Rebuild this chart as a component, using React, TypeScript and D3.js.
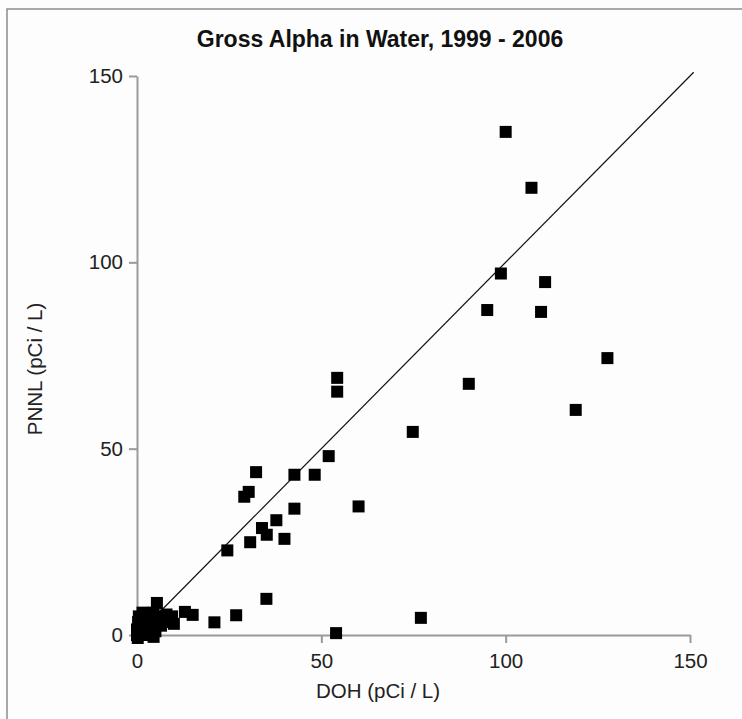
import React, { useEffect, useRef } from 'react';
import * as d3 from 'd3';

// DOH vs PNNL measurements (pCi / L)
const dohValues = [
  100, 107, 98.7, 110.7, 95, 109.6, 127.6, 90, 119, 74.8,
  54.3, 54.3, 52, 32.3, 42.7, 48.2, 30.3, 29.1, 60.1, 42.7,
  37.8, 33.9, 35.2, 40, 30.7, 24.5, 35.1, 26.9, 21, 77, 54,
  13, 15.1, 5.4,
  0, 0, 0.3, 0.5, 1, 1.2, 1.5, 2, 2, 2.5, 3, 3, 3.5, 4, 4, 4.5,
  5, 5, 6, 6.5, 7, 8, 9, 9.5, 10, 0.2, 4.5
];
const pnnlValues = [
  135, 120, 97, 94.7, 87.2, 86.7, 74.3, 67.4, 60.4, 54.5,
  69, 65.3, 48, 43.7, 43, 43, 38.4, 37.1, 34.5, 33.9,
  30.8, 28.7, 26.9, 25.8, 24.9, 22.7, 9.7, 5.3, 3.4, 4.6, 0.5,
  6.2, 5.4, 8.6,
  0, 1.5, 3.5, 5, 0.5, 2.5, 6, 0, 4, 1.5, 3, 5.5, 0.5, 2, 4.5, 6,
  1, 3.5, 5, 2.5, 4, 5.5, 3.5, 5, 3, -0.8, -0.5
];
const tickValues = [0, 50, 100, 150];
const oneToOne = [0, 151];

const title = 'Gross Alpha in Water, 1999 - 2006';
const xTitle = 'DOH (pCi / L)';
const yTitle = 'PNNL (pCi / L)';

function App() {
  const svgRef = useRef<SVGSVGElement>(null);

  useEffect(() => {
    const svg = d3.select(svgRef.current);
    svg.selectAll('*').remove();

    const width = 742;
    const height = 719;
    const font = 'Liberation Sans, Arial, sans-serif';
    const axisColor = '#9a9a9a';

    const x = d3.scaleLinear().domain([0, 150]).range([137, 690]);
    const y = d3.scaleLinear().domain([0, 150]).range([635, 76]);

    svg.append('rect')
      .attr('width', width)
      .attr('height', height)
      .attr('fill', '#fdfdfd');

    // outer frame (runs off the right and bottom edges)
    svg.append('rect')
      .attr('x', 7)
      .attr('y', 9)
      .attr('width', width + 20)
      .attr('height', height + 20)
      .attr('fill', 'none')
      .attr('stroke', '#8c8c8c')
      .attr('stroke-width', 1.5);

    svg.append('text')
      .attr('x', 380)
      .attr('y', 47)
      .attr('text-anchor', 'middle')
      .attr('font-family', font)
      .attr('font-weight', 'bold')
      .attr('font-size', 23)
      .attr('fill', '#111')
      .text(title);

    const xAxis = svg.append('g')
      .attr('transform', `translate(0,${y(0)})`)
      .call(d3.axisBottom(x).tickValues(tickValues).tickSize(8).tickPadding(10).tickSizeOuter(0));
    const yAxis = svg.append('g')
      .attr('transform', `translate(${x(0)},0)`)
      .call(d3.axisLeft(y).tickValues(tickValues).tickSize(8).tickPadding(6).tickSizeOuter(0));

    [xAxis, yAxis].forEach(g => {
      g.select('.domain').attr('stroke', axisColor).attr('stroke-width', 2);
      g.selectAll('.tick line').attr('stroke', axisColor).attr('stroke-width', 2);
      g.selectAll('.tick text')
        .attr('font-family', font)
        .attr('font-size', 20.5)
        .attr('fill', '#222');
    });

    svg.append('text')
      .attr('x', 378)
      .attr('y', 698)
      .attr('text-anchor', 'middle')
      .attr('font-family', font)
      .attr('font-size', 20.5)
      .attr('fill', '#222')
      .text(xTitle);

    svg.append('text')
      .attr('transform', 'translate(42,369) rotate(-90)')
      .attr('text-anchor', 'middle')
      .attr('font-family', font)
      .attr('font-size', 20.5)
      .attr('fill', '#222')
      .text(yTitle);

    const line = d3.line<number>()
      .x(d => x(d))
      .y(d => y(d));

    svg.append('path')
      .datum(oneToOne)
      .attr('fill', 'none')
      .attr('stroke', '#111')
      .attr('stroke-width', 1.2)
      .attr('d', line);

    const size = 12;
    svg.append('g')
      .selectAll('rect')
      .data(dohValues.map((d, i) => ({ doh: d, pnnl: pnnlValues[i] })))
      .join('rect')
      .attr('x', d => x(d.doh) - size / 2)
      .attr('y', d => y(d.pnnl) - size / 2)
      .attr('width', size)
      .attr('height', size)
      .attr('fill', '#000');
  }, []);

  return (
    <svg ref={svgRef} width="742" height="719" style={{ position: 'absolute', left: 0, top: 0 }}></svg>
  );
}

export default App;
